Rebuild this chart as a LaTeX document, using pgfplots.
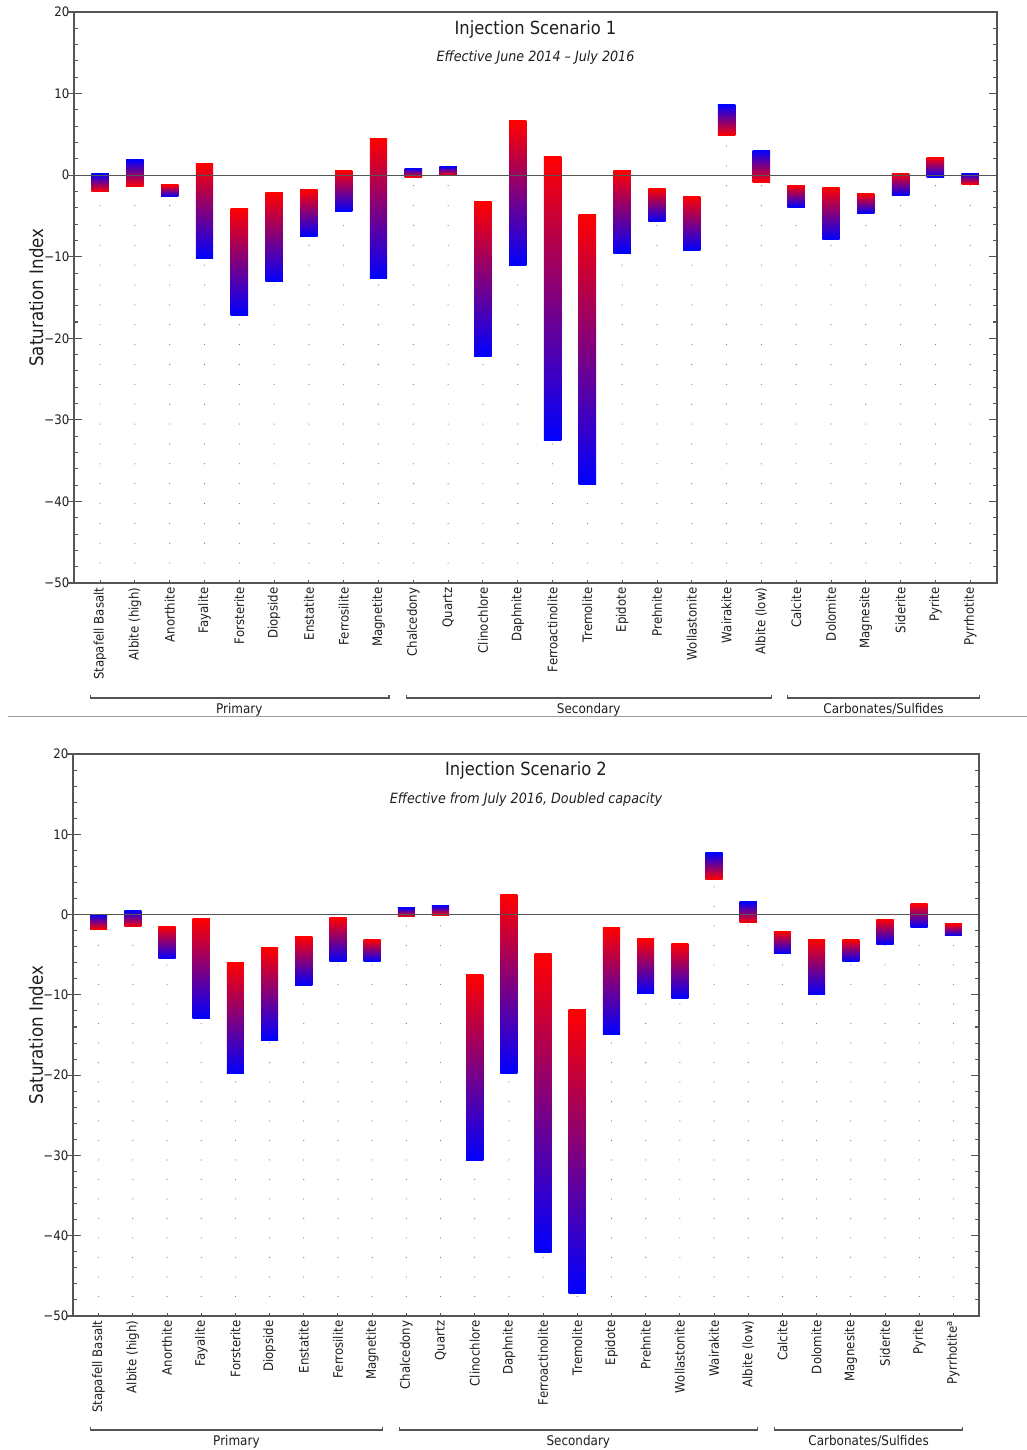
\documentclass[border=0pt]{standalone}
\usepackage{fontspec}
\setmainfont{DejaVu Sans}[FakeStretch=0.9]
\usepackage{pgfplots}
\usepackage{pgfplotstable}
\pgfplotsset{compat=1.18}

\definecolor{axcol}{HTML}{555555}
\definecolor{dotcol}{HTML}{7A7A7A}
\definecolor{txtcol}{HTML}{1E1E1E}

% Scenario 1: start value (red end) and end value (blue end) of each bar
\pgfplotstableread{
idx red blue
0 -2.00 0.15
1 -1.40 1.90
2 -1.20 -2.65
3 1.47 -10.18
4 -4.05 -17.16
5 -2.17 -13.08
6 -1.80 -7.48
7 0.61 -4.45
8 4.45 -12.71
9 -0.25 0.86
10 -0.04 1.10
11 -3.27 -22.26
12 6.66 -11.10
13 2.26 -32.56
14 -4.77 -37.95
15 0.63 -9.55
16 -1.66 -5.71
17 -2.56 -9.22
18 4.83 8.63
19 -0.85 3.08
20 -1.21 -3.91
21 -1.46 -7.92
22 -2.28 -4.69
23 0.26 -2.48
24 2.18 -0.23
25 -1.13 0.26
}\scenA

% Scenario 2
\pgfplotstableread{
idx red blue
0 -1.83 0.02
1 -1.54 0.50
2 -1.45 -5.52
3 -0.54 -12.99
4 -6.02 -19.80
5 -4.15 -15.65
6 -2.78 -8.84
7 -0.37 -5.89
8 -3.11 -5.81
9 -0.29 0.87
10 -0.08 1.12
11 -7.43 -30.65
12 2.53 -19.80
13 -4.86 -42.10
14 -11.87 -47.16
15 -1.62 -14.99
16 -3.03 -9.84
17 -3.61 -10.46
18 4.36 7.68
19 -1.04 1.58
20 -2.08 -4.86
21 -3.07 -10.00
22 -3.15 -5.81
23 -0.58 -3.69
24 1.33 -1.58
25 -1.16 -2.66
}\scenB

\newcommand{\drawbars}[2]{%
  \pgfplotsforeachungrouped \i in {0,...,25}{%
    \pgfplotstablegetelem{\i}{red}\of#1\let\vr\pgfplotsretval
    \pgfplotstablegetelem{\i}{blue}\of#1\let\vb\pgfplotsretval
    \pgfmathsetmacro\lo{min(\vr,\vb)}%
    \pgfmathsetmacro\hi{max(\vr,\vb)}%
    \pgfmathsetmacro\xl{\i-0.25}%
    \pgfmathsetmacro\xr{\i+0.25}%
    \pgfmathtruncatemacro\up{\vb>\vr}%
    \ifnum\up=1 \def\tc{blue}\def\bc{red}\else\def\tc{red}\def\bc{blue}\fi
    \edef\temp{%
      \noexpand\addplot[dotcol, line width=0.9pt, line cap=round, dash pattern=on 0pt off #2] coordinates {(\i,-50) (\i,\lo)};
      \noexpand\addplot[draw=none, top color=\tc, bottom color=\bc] coordinates {(\xl,\lo) (\xr,\lo) (\xr,\hi) (\xl,\hi)} -- cycle;
    }\temp
  }%
}

\newcommand{\grp}[5]{%
  \draw[axcol, line width=0.8pt] ([yshift=-#4+2.25pt]axis cs:#1,-50) -- ([yshift=-#4]axis cs:#1,-50) -- ([yshift=-#4]axis cs:#2,-50) -- ([yshift=-#4+2.25pt]axis cs:#2,-50);
  \node[anchor=base, text=txtcol, font=\fontsize{10}{11}\selectfont] at ([yshift=-#4-11.5pt]axis cs:#5,-50) {#3};
}

\pgfplotsset{
  topgeom/.style={at={(55.5pt,-437.25pt)}, anchor=south west, scale only axis,
    width=692.25pt, height=428.25pt, xmin=-0.75, xmax=25.77, ymin=-50, ymax=20},
  botgeom/.style={at={(54.75pt,-987pt)}, anchor=south west, scale only axis,
    width=679.5pt, height=421.5pt, xmin=-0.75, xmax=25.75, ymin=-50, ymax=20},
  mainax/.style={
    clip=false,
    axis line style={axcol, line width=1pt},
    xtick={0,...,25}, xtick pos=bottom,
    x tick style={draw=none},
    x tick label style={rotate=90, anchor=east, text=txtcol, font=\fontsize{9.8}{11}\selectfont},
    ytick={-50,-40,...,20}, yticklabels={−50,−40,−30,−20,−10,0,10,20},
    minor y tick num=4, ytick pos=both, tick align=inside,
    major tick length=5.8pt, minor tick length=3pt,
    tick style={axcol, line width=0.8pt},
    y tick label style={text=txtcol, font=\fontsize{9.8}{11}\selectfont},
    ylabel={Saturation Index},
    ylabel style={at={(axis description cs:-0.041,0.5)}, anchor=center, text=txtcol, font=\fontsize{13.9}{15}\selectfont},
  },
  ytickout/.style={axis line style={draw=none}, xtick=\empty, ytick={-50,-40,...,20}, yticklabels={},
    ytick pos=left, tick align=outside, major tick length=4.5pt, tick style={axcol, line width=0.8pt}},
  xtickin/.style={axis line style={draw=none}, ytick=\empty, xtick={0,...,25}, xticklabels={},
    xtick pos=bottom, tick align=inside, major tick length=2.2pt, tick style={axcol, line width=0.7pt}},
}

\begin{document}
\begin{tikzpicture}
\useasboundingbox (0pt,0pt) rectangle (770.25pt,-1087.5pt);

% ---------- Scenario 1 ----------
\begin{axis}[topgeom, mainax,
  xticklabels={Stapafell Basalt, Albite (high), Anorthite, Fayalite, Forsterite, Diopside, Enstatite, Ferrosilite, Magnetite, Chalcedony, Quartz, Clinochlore, Daphnite, Ferroactinolite, Tremolite, Epidote, Prehnite, Wollastonite, Wairakite, Albite (low), Calcite, Dolomite, Magnesite, Siderite, Pyrite, Pyrrhotite},
]
\drawbars{\scenA}{14.9pt}
\addplot[axcol, line width=0.9pt] coordinates {(-0.75,0) (25.77,0)};
\node[text=txtcol, font=\fontsize{13.6}{15}\selectfont] at (axis description cs:0.5,0.970) {Injection Scenario 1};
\node[text=txtcol, font=\itshape\fontsize{10.6}{12}\selectfont] at (axis description cs:0.5,0.920) {Effective June 2014 – July 2016};
\grp{-0.27}{8.3}{Primary}{86.25pt}{4.0}
\grp{8.8}{19.28}{Secondary}{86.25pt}{14.04}
\grp{19.76}{25.26}{Carbonates/Sulfides}{86.25pt}{22.51}
\end{axis}
\begin{axis}[topgeom, ytickout]\end{axis}
\begin{axis}[topgeom, xtickin]\end{axis}

\draw[gray!80, line width=0.75pt] (6pt,-537pt) -- (770.25pt,-537pt);

% ---------- Scenario 2 ----------
\begin{axis}[botgeom, mainax,
  xticklabels={Stapafell Basalt, Albite (high), Anorthite, Fayalite, Forsterite, Diopside, Enstatite, Ferrosilite, Magnetite, Chalcedony, Quartz, Clinochlore, Daphnite, Ferroactinolite, Tremolite, Epidote, Prehnite, Wollastonite, Wairakite, Albite (low), Calcite, Dolomite, Magnesite, Siderite, Pyrite, Pyrrhotite\textsuperscript{a}},
]
\drawbars{\scenB}{14.63pt}
\addplot[axcol, line width=0.9pt] coordinates {(-0.75,0) (25.75,0)};
\node[text=txtcol, font=\fontsize{13.6}{15}\selectfont] at (axis description cs:0.5,0.971) {Injection Scenario 2};
\node[text=txtcol, font=\itshape\fontsize{10.6}{12}\selectfont] at (axis description cs:0.5,0.918) {Effective from July 2016, Doubled capacity};
\grp{-0.24}{8.3}{Primary}{85.5pt}{4.03}
\grp{8.79}{19.28}{Secondary}{85.5pt}{14.03}
\grp{19.76}{25.28}{Carbonates/Sulfides}{85.5pt}{22.52}
\end{axis}
\begin{axis}[botgeom, ytickout]\end{axis}
\begin{axis}[botgeom, xtickin]\end{axis}
\end{tikzpicture}
\end{document}
